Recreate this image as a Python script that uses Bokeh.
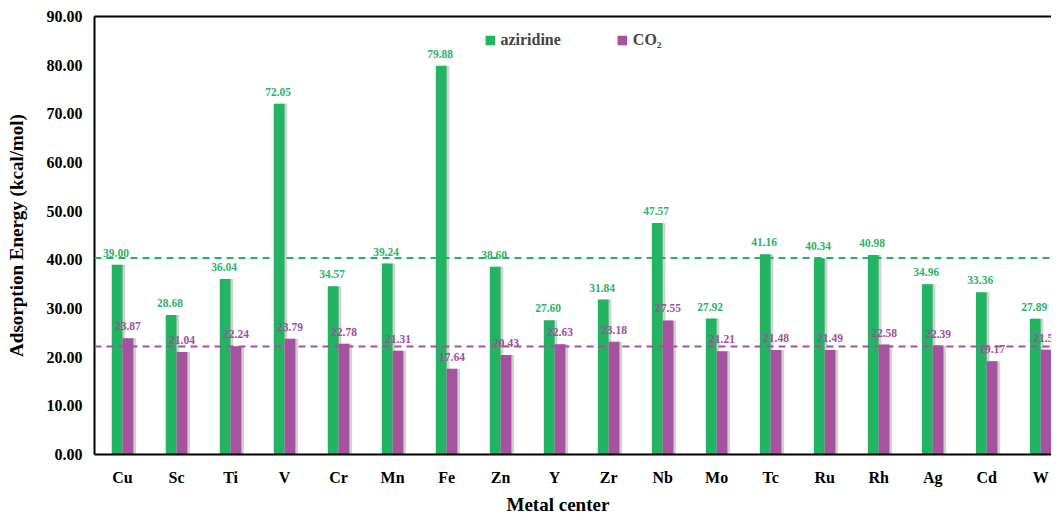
from bokeh.plotting import figure
from bokeh.models import (ColumnDataSource, Range1d, LinearAxis, FixedTicker,
                          Span, Legend, LegendItem, CustomJSTickFormatter, Title)
from bokeh.transform import dodge
from bokeh.core.properties import value
from bokeh.embed import file_html
from bokeh.resources import INLINE

metals = ["Cu", "Sc", "Ti", "V", "Cr", "Mn", "Fe", "Zn", "Y", "Zr", "Nb", "Mo",
          "Tc", "Ru", "Rh", "Ag", "Cd", "W"]
aziridine = [39.00, 28.68, 36.04, 72.05, 34.57, 39.24, 79.88, 38.60, 27.60, 31.84,
             47.57, 27.92, 41.16, 40.34, 40.98, 34.96, 33.36, 27.89]
co2 = [23.87, 21.04, 22.24, 23.79, 22.78, 21.31, 17.64, 20.43, 22.63, 23.18,
       27.55, 21.21, 21.48, 21.49, 22.58, 22.39, 19.17, 21.54]
aziridine_ref = 40.4
co2_ref = 22.2
y_ticks = [0, 10, 20, 30, 40, 50, 60, 70, 80, 90]

GREEN = "#22B463"
PURPLE = "#A5529F"
GREEN_T = "#2BB36A"
PURPLE_T = "#A04F9B"
FONT = "Liberation Serif"

idx = list(range(len(metals)))
src = ColumnDataSource(dict(
    x=idx, metal=metals, az=aziridine, co2=co2,
    az_lbl=[f"{v:.2f}" for v in aziridine],
    co2_lbl=[f"{v:.2f}" for v in co2],
))

p = figure(width=1051, height=517, output_backend="svg", toolbar_location=None,
           x_range=Range1d(-0.519, 17.2), y_range=Range1d(0, 90),
           min_border_left=94, min_border_right=0, min_border_top=16,
           min_border_bottom=63)
p.outline_line_color = None
p.grid.visible = False
p.background_fill_color = "white"
p.border_fill_color = "white"

bw = 0.2
sh = 0.05
# shadows
p.vbar(x=dodge("x", -bw / 2 + sh, range=p.x_range), top="az", width=bw, source=src,
       fill_color="#7a7a7a", fill_alpha=0.35, line_color=None)
p.vbar(x=dodge("x", bw / 2 + sh, range=p.x_range), top="co2", width=bw, source=src,
       fill_color="#7a7a7a", fill_alpha=0.35, line_color=None)
r_az = p.vbar(x=dodge("x", -bw / 2, range=p.x_range), top="az", width=bw, source=src,
              fill_color=GREEN, line_color=None)
r_co = p.vbar(x=dodge("x", bw / 2, range=p.x_range), top="co2", width=bw, source=src,
              fill_color=PURPLE, line_color=None)

p.add_layout(Span(location=aziridine_ref, dimension="width", line_color=GREEN,
                  line_width=2, line_dash="7 5"))
p.add_layout(Span(location=co2_ref, dimension="width", line_color=PURPLE,
                  line_width=2, line_dash="7 5"))

p.text(x=dodge("x", -bw / 2 - 0.02, range=p.x_range), y="az", text="az_lbl", source=src,
       text_align="center", text_baseline="bottom", y_offset=-8,
       text_font=value(FONT), text_font_style="bold", text_font_size="11.5px",
       text_color=GREEN_T)
p.text(x=dodge("x", bw / 2, range=p.x_range), y="co2", text="co2_lbl", source=src,
       text_align="center", text_baseline="bottom", y_offset=-8,
       text_font=value(FONT), text_font_style="bold", text_font_size="11.5px",
       text_color=PURPLE_T)

# axes
xa = p.xaxis[0]
xa.ticker = FixedTicker(ticks=idx)
xa.major_label_overrides = {i: m for i, m in enumerate(metals)}
ya = p.yaxis[0]
ya.ticker = FixedTicker(ticks=y_ticks)
ya.formatter = CustomJSTickFormatter(code="return tick.toFixed(2);")
ya.axis_label = "Adsorption Energy (kcal/mol)"
for ax in (xa, ya):
    ax.axis_line_color = "black"
    ax.axis_line_width = 2
    ax.major_tick_line_color = None
    ax.minor_tick_line_color = None
    ax.major_label_text_font = FONT
    ax.major_label_text_font_style = "bold"
    ax.major_label_text_font_size = "16px"
    ax.major_label_text_color = "black"
    ax.axis_label_text_font = FONT
    ax.axis_label_text_font_style = "bold"
    ax.axis_label_text_font_size = "19px"
    ax.axis_label_text_color = "black"
xa.major_label_standoff = 8
ya.major_label_standoff = 6
ya.axis_label_standoff = 17

p.add_layout(Title(text="Metal center", align="left", offset=412, standoff=6,
                   text_font=FONT, text_font_style="bold", text_font_size="19px",
                   text_color="black"), "below")

top = LinearAxis(ticker=FixedTicker(ticks=[]), axis_line_color="black",
                 axis_line_width=2, major_tick_line_color=None,
                 minor_tick_line_color=None, major_label_text_font_size="0px",
                 major_label_standoff=0)
p.add_layout(top, "above")

legend = Legend(items=[LegendItem(label="aziridine", renderers=[r_az]),
                       LegendItem(label="CO₂", renderers=[r_co])],
                orientation="horizontal", location="top_center",
                border_line_color=None, background_fill_alpha=0,
                label_text_font=FONT, label_text_font_style="bold",
                label_text_font_size="16px", glyph_width=12, glyph_height=12,
                spacing=55, margin=15, padding=4)
p.add_layout(legend)

open("out.html", "w").write(file_html(p, INLINE))
